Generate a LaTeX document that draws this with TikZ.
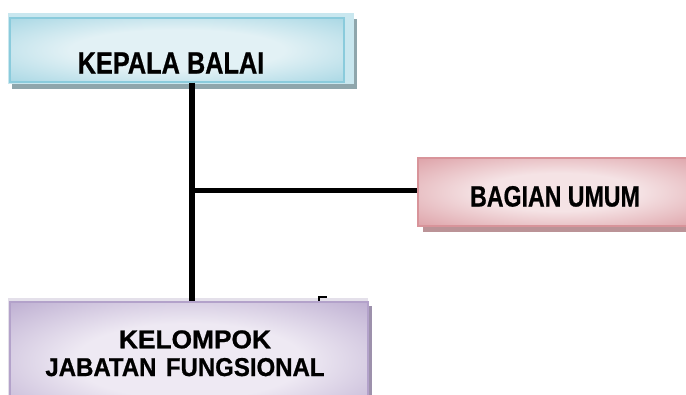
\documentclass[tikz,border=0pt]{standalone}
\usepackage{fontspec}
\usepackage{graphicx}
\setmainfont{Liberation Sans}[BoldFeatures={FakeBold=0.8}]
\definecolor{kin}{HTML}{E2F1F5}
\definecolor{kout}{HTML}{A8D7E4}
\definecolor{kbord}{HTML}{8ACBDC}
\definecolor{kframe}{HTML}{C9E7EF}
\definecolor{kshad}{HTML}{8FA6AC}
\definecolor{bin}{HTML}{F5E3E5}
\definecolor{bout}{HTML}{DDA1A7}
\definecolor{bbord}{HTML}{D8949A}
\definecolor{bshad}{HTML}{BB9397}
\definecolor{pin}{HTML}{EEE9F3}
\definecolor{pout}{HTML}{BDAED1}
\definecolor{pbord}{HTML}{B3A2CA}
\definecolor{pframe}{HTML}{E4E0EA}
\definecolor{pshad}{HTML}{9D91AC}
\pgfdeclareradialshading{kshade}{\pgfpoint{0bp}{0bp}}{color(0bp)=(kin); color(16bp)=(kin); color(36bp)=(kout); color(50bp)=(kout)}
\pgfdeclareradialshading{bshade}{\pgfpoint{0bp}{0bp}}{color(0bp)=(bin); color(14bp)=(bin); color(36bp)=(bout); color(50bp)=(bout)}
\pgfdeclareradialshading{pshade}{\pgfpoint{0bp}{0bp}}{color(0bp)=(pin); color(16bp)=(pin); color(36bp)=(pout); color(50bp)=(pout)}
\tikzset{
  orgbox/.style n args={2}{rectangle, inner sep=0pt, draw=#2, line width=1.2pt,
     shading=#1},
  orgtext/.style={anchor=base, inner sep=0pt, text=black},
  conn/.style={draw=black, line width=5pt}
}
\begin{document}
\begin{tikzpicture}[x=1pt,y=-1pt]
\useasboundingbox (0,0) rectangle (686,394);
\clip (0,0) rectangle (686,394);
\fill[white] (0,0) rectangle (686,394);
% decorative shadows and frames
\fill[kshad] (12,19) rectangle (357,89);
\fill[kframe] (8,13) rectangle (354,84);
\fill[bshad] (423,163) rectangle (705,232);
\fill[pshad] (14,306) rectangle (372,424);
\fill[pframe] (8,298) rectangle (368,420);
% boxes
\node[orgbox={kshade}{kbord}, minimum width=334pt, minimum height=64pt] (k) at (177,50) {};
\node[orgbox={bshade}{bbord}, minimum width=282pt, minimum height=68pt] (b) at (559,192) {};
\node[orgbox={pshade}{pbord}, minimum width=358pt, minimum height=118pt] (kel) at (189,361) {};
% texts
\node[orgtext, font=\fontsize{30.7}{32}\selectfont\bfseries] (kt) at (171,73.5) {\scalebox{0.825}[1]{KEPALA BALAI}};
\node[orgtext, font=\fontsize{29.3}{31}\selectfont\bfseries] (bt) at (555,206.5) {\scalebox{0.79}[1]{BAGIAN UMUM}};
\node[orgtext, font=\fontsize{25.8}{27}\selectfont\bfseries] (kelt1) at (195,348.3) {\scalebox{1.02}[1]{KELOMPOK}};
\node[orgtext, font=\fontsize{25.8}{27}\selectfont\bfseries] (kelt2) at (185,376) {\scalebox{0.93}[1]{JABATAN\hspace{3pt} FUNGSIONAL}};
% connectors
\coordinate (j) at (192,190.8);
\draw[conn, line width=6pt] (k.south -| j) -- (kel.north -| j);
\draw[conn] (j) -- (j -| b.west);
% stray mark
\draw[line width=1.6pt] (318.8,300.5) -- (318.8,296.8) -- (327,296.8);
\end{tikzpicture}
\end{document}
